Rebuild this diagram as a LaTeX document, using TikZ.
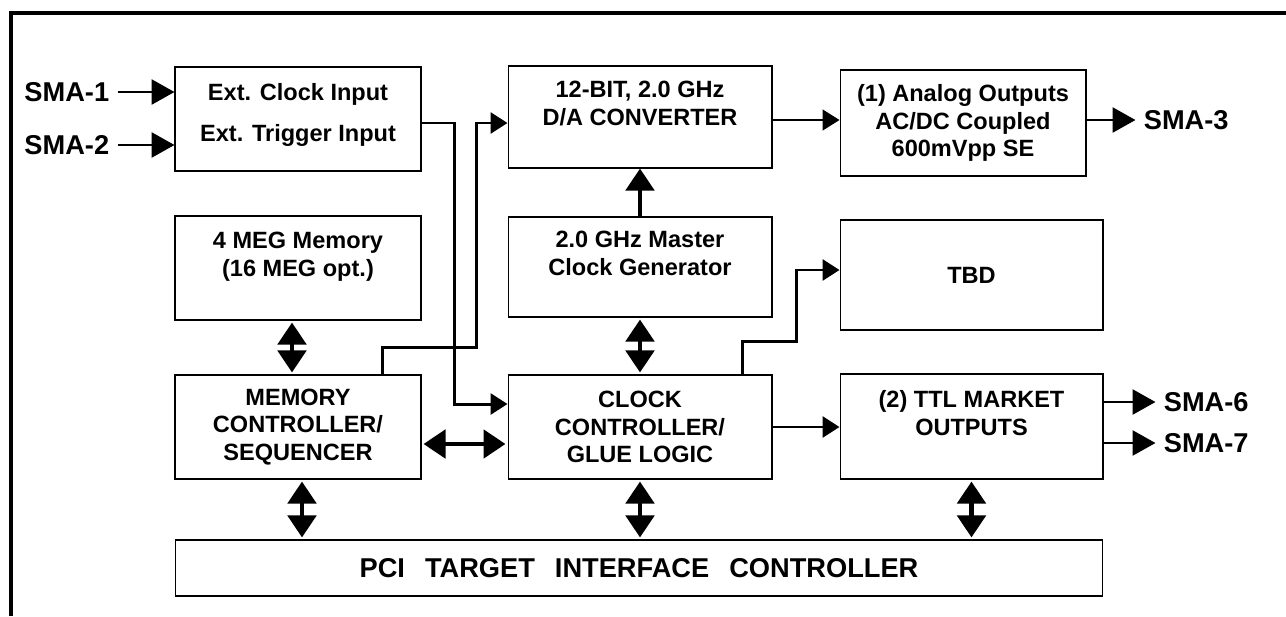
\documentclass[tikz,border=0pt]{standalone}
\usepackage{fontspec}
\setmainfont{Liberation Sans}
\usetikzlibrary{positioning, arrows.meta}

\newcommand{\boxfont}{\fontsize{13.4}{15.5}\selectfont\bfseries}
\newcommand{\smafont}{\fontsize{15.5}{18}\selectfont\bfseries}
\newcommand{\pcifont}{\fontsize{15.5}{18}\selectfont\bfseries}

\begin{document}
\begin{tikzpicture}[
  x=0.02cm, y=-0.02cm,
  font=\boxfont,
  block/.style={draw=black, line width=0.6pt, align=center, inner sep=0pt},
  sma/.style={font=\smafont, inner sep=0.16cm},
  sig/.style={line width=1.6pt, -{Triangle[length=0.46cm,width=0.5cm]}},
  route/.style={line width=1.7pt, -{Triangle[length=0.34cm,width=0.42cm]}},
  fine/.style={line width=0.8pt, -{Triangle[length=0.34cm,width=0.42cm]}},
  heavy/.style={line width=2.8pt, -{Triangle[length=0.44cm,width=0.56cm]}},
  dbl/.style={line width=2.8pt,
    {Triangle[length=0.44cm,width=0.56cm]}-{Triangle[length=0.44cm,width=0.56cm]},
    shorten <=0.04cm, shorten >=0.04cm},
]
\useasboundingbox (0,0) rectangle (1286,616);
\draw[line width=2.3pt] (11,616) -- (11,13) -- (1286,13);

\node[block, minimum width=4.92cm, minimum height=2.08cm] (ext) at (298,119)
  {Ext. Clock Input\\[8.3pt]Ext. Trigger Input\\[-8pt]\mbox{}};
\node[block, minimum width=4.92cm, minimum height=2.08cm] (mem) at (298,268)
  {4 MEG Memory\\(16 MEG opt.)\\\mbox{}};
\node[block, minimum width=4.92cm, minimum height=2.08cm] (mc) at (298,427)
  {MEMORY\\CONTROLLER/\\SEQUENCER};

\node[block, minimum width=5.28cm, minimum height=2.04cm] (dac) at (640,117)
  {12-BIT, 2.0 GHz\\D/A CONVERTER\\\mbox{}};
\node[block, minimum width=5.28cm, minimum height=2.0cm] (mclk) at (640,267)
  {2.0 GHz Master\\Clock Generator\\\mbox{}};
\node[block, minimum width=5.28cm, minimum height=2.08cm] (cc) at (640,427)
  {CLOCK\\CONTROLLER/\\GLUE LOGIC};

\node[block, minimum width=4.92cm, minimum height=2.12cm] (ana) at (963,123)
  {(1) Analog Outputs\\AC/DC Coupled\\600mVpp SE};
\node[block, minimum width=5.26cm, minimum height=2.2cm] (tbd) at (971.5,275)
  {TBD};
\node[block, minimum width=5.26cm, minimum height=2.1cm] (ttl) at (971.5,426.5)
  {(2) TTL MARKET\\OUTPUTS\\\mbox{}};

\node[block, minimum width=18.56cm, minimum height=1.12cm, font=\pcifont] (pci)
  at (639,568)
  {PCI\hspace{0.4cm}TARGET\hspace{0.4cm}INTERFACE\hspace{0.4cm}CONTROLLER};

\node[sma, left=1.14cm of ext.west, yshift=0.54cm] (sma1) {SMA-1};
\node[sma, left=1.14cm of ext.west, yshift=-0.52cm] (sma2) {SMA-2};
\node[sma, right=0.98cm of ana.east, yshift=0.06cm] (sma3) {SMA-3};
\node[sma, right=1.04cm of ttl.east, yshift=0.49cm] (sma6) {SMA-6};
\node[sma, right=1.04cm of ttl.east, yshift=-0.33cm] (sma7) {SMA-7};

\draw[sig] (sma1.east) -- (sma1.east -| ext.west);
\draw[sig] (sma2.east) -- (sma2.east -| ext.west);
\draw[sig] (sma3.west -| ana.east) -- (sma3.west);
\draw[sig] (sma6.west -| ttl.east) -- (sma6.west);
\draw[sig] (sma7.west -| ttl.east) -- (sma7.west);

\draw[fine] ([yshift=-0.06cm]dac.east) -- ([yshift=-0.06cm]dac.east -| ana.west);
\draw[heavy] (mclk.north) -- (dac.south);
\draw[route] ([yshift=-0.08cm]ext.east) -- ++(0.66cm,0)
  |- ([yshift=0.46cm]cc.west);
\draw[route] ([xshift=1.7cm]mc.north) -- ++(0,0.54cm)
  -| ([xshift=-0.62cm,yshift=-0.12cm]dac.west) -- ([yshift=-0.12cm]dac.west);
\draw[route] ([xshift=2.06cm]cc.north) -- ++(0,0.66cm)
  -| ([xshift=-0.86cm,yshift=0.1cm]tbd.west) -- ([yshift=0.1cm]tbd.west);
\draw[route] (cc.east) -- (cc.east -| ttl.west);

\draw[dbl] ([xshift=-0.12cm]mem.south) -- ([xshift=-0.12cm]mc.north);
\draw[dbl] ([xshift=0.08cm]mc.south) -- ([xshift=0.08cm]mc.south |- pci.north);
\draw[dbl] (mclk.south) -- (cc.north);
\draw[dbl] (cc.south) -- (cc.south |- pci.north);
\draw[dbl] (ttl.south) -- (ttl.south |- pci.north);
\draw[dbl] ([yshift=-0.34cm]mc.east) -- ([yshift=-0.34cm]mc.east -| cc.west);

\end{tikzpicture}
\end{document}
